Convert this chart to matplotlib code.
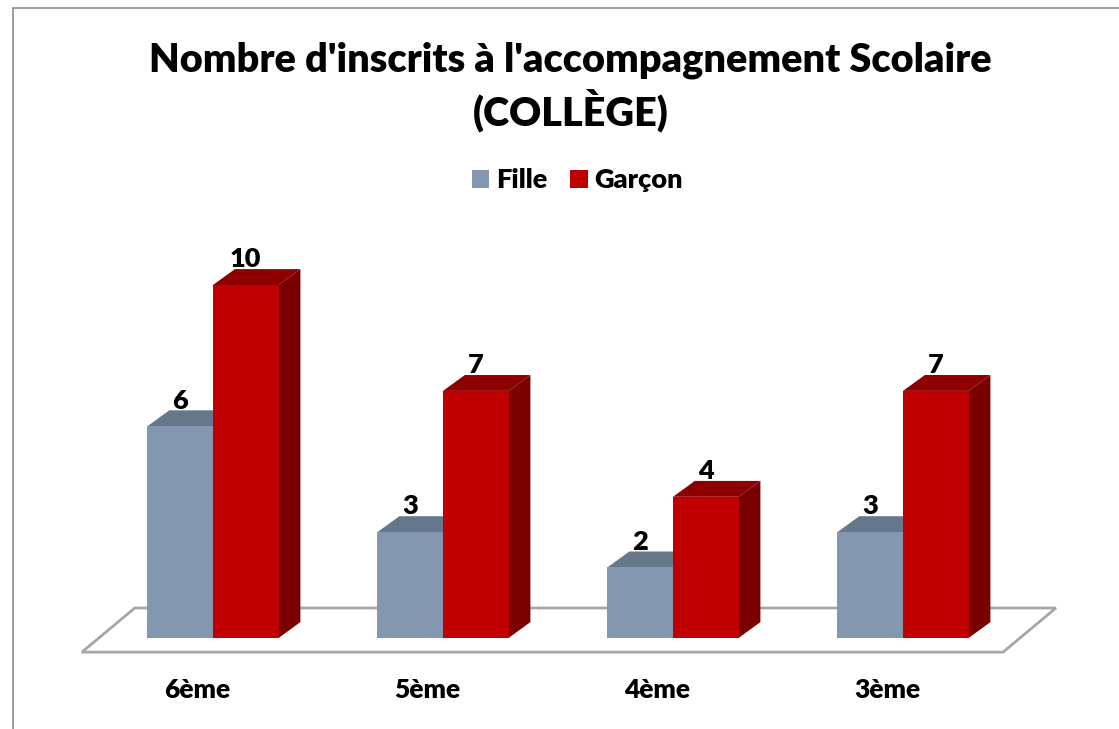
import numpy as np
import matplotlib.pyplot as plt
from matplotlib.patches import Polygon, Rectangle

# data
categories = ["6ème", "5ème", "4ème", "3ème"]
series_names = ["Fille", "Garçon"]
fille = [6, 3, 2, 3]
garcon = [10, 7, 4, 7]

title = "Nombre d'inscrits à l'accompagnement Scolaire\n(COLLÈGE)"

# styling
FONT = ["Lato", "DejaVu Sans"]
WEIGHT = "heavy"
COLORS = {
    "Fille":  {"front": "#8497B0", "top": "#66768B", "side": "#5A6A7E"},
    "Garçon": {"front": "#C00000", "top": "#8E0000", "side": "#7A0000"},
}
BAR_W = 0.285          # width of one bar (group spacing = 1)
DEPTH_X = 0.095        # fake 3D depth, x data units
DEPTH_Y = 0.45         # fake 3D depth, y data units


def draw_bar(ax, x0, h, cols):
    x1 = x0 + BAR_W
    front = Rectangle((x0, 0), BAR_W, h, facecolor=cols["front"], edgecolor="none", zorder=3)
    top = Polygon([(x0, h), (x1, h), (x1 + DEPTH_X, h + DEPTH_Y), (x0 + DEPTH_X, h + DEPTH_Y)],
                  closed=True, facecolor=cols["top"], edgecolor="none", zorder=2)
    side = Polygon([(x1, 0), (x1 + DEPTH_X, DEPTH_Y), (x1 + DEPTH_X, h + DEPTH_Y), (x1, h)],
                   closed=True, facecolor=cols["side"], edgecolor="none", zorder=2)
    for p in (side, top, front):
        ax.add_patch(p)
    ax.text(x0 + BAR_W / 2, h + DEPTH_Y + 0.05, str(h), ha="center", va="baseline",
            fontsize=19.5, fontweight=WEIGHT, family=FONT, zorder=5)


fig = plt.figure(figsize=(11.19, 7.29), dpi=100)
ax = fig.add_axes([0, 0, 1, 1])
ax.set_xlim(-213 / 230, (1119 - 213) / 230)
ax.set_ylim(-91 / 35.3, 638 / 35.3)
ax.axis("off")

# floor
n = len(categories)
fx0, fx1 = -0.57, n - 1 + 0.435
fy0, fy1 = -0.40, 0.85
fdx = 0.23
floor = Polygon([(fx0, fy0), (fx1, fy0), (fx1 + fdx, fy1), (fx0 + fdx, fy1)], closed=True,
                facecolor="white", edgecolor="#A6A6A6", linewidth=2, zorder=1)
ax.add_patch(floor)

x = np.arange(n)
for i in range(n):
    draw_bar(ax, x[i] - BAR_W, fille[i], COLORS["Fille"])
    draw_bar(ax, x[i], garcon[i], COLORS["Garçon"])
    ax.text(x[i] - 0.07, -1.47, categories[i], ha="center", va="center",
            fontsize=19, fontweight=WEIGHT, family=FONT)

# title and legend
fig.text(0.51, 0.881, title, ha="center", va="center", fontsize=28.5, fontweight=WEIGHT,
         family=FONT, linespacing=1.25)
handles = [Rectangle((0, 0), 1, 1, facecolor=COLORS[s]["front"]) for s in series_names]
fig.legend(handles, series_names, loc="center", bbox_to_anchor=(0.516, 0.753), ncol=2,
           frameon=False, prop={"family": FONT, "weight": WEIGHT, "size": 19.5},
           handlelength=0.65, handleheight=0.65, handletextpad=0.25, columnspacing=0.85)

# chart border (partly cut off in the original)
fig.patches.append(Rectangle((13 / 1119, -0.1), 1.2, 1 - 8 / 729 + 0.1, transform=fig.transFigure,
                             fill=False, edgecolor="#8C8C8C", linewidth=1.2))

fig.savefig("out.png", dpi=100)
